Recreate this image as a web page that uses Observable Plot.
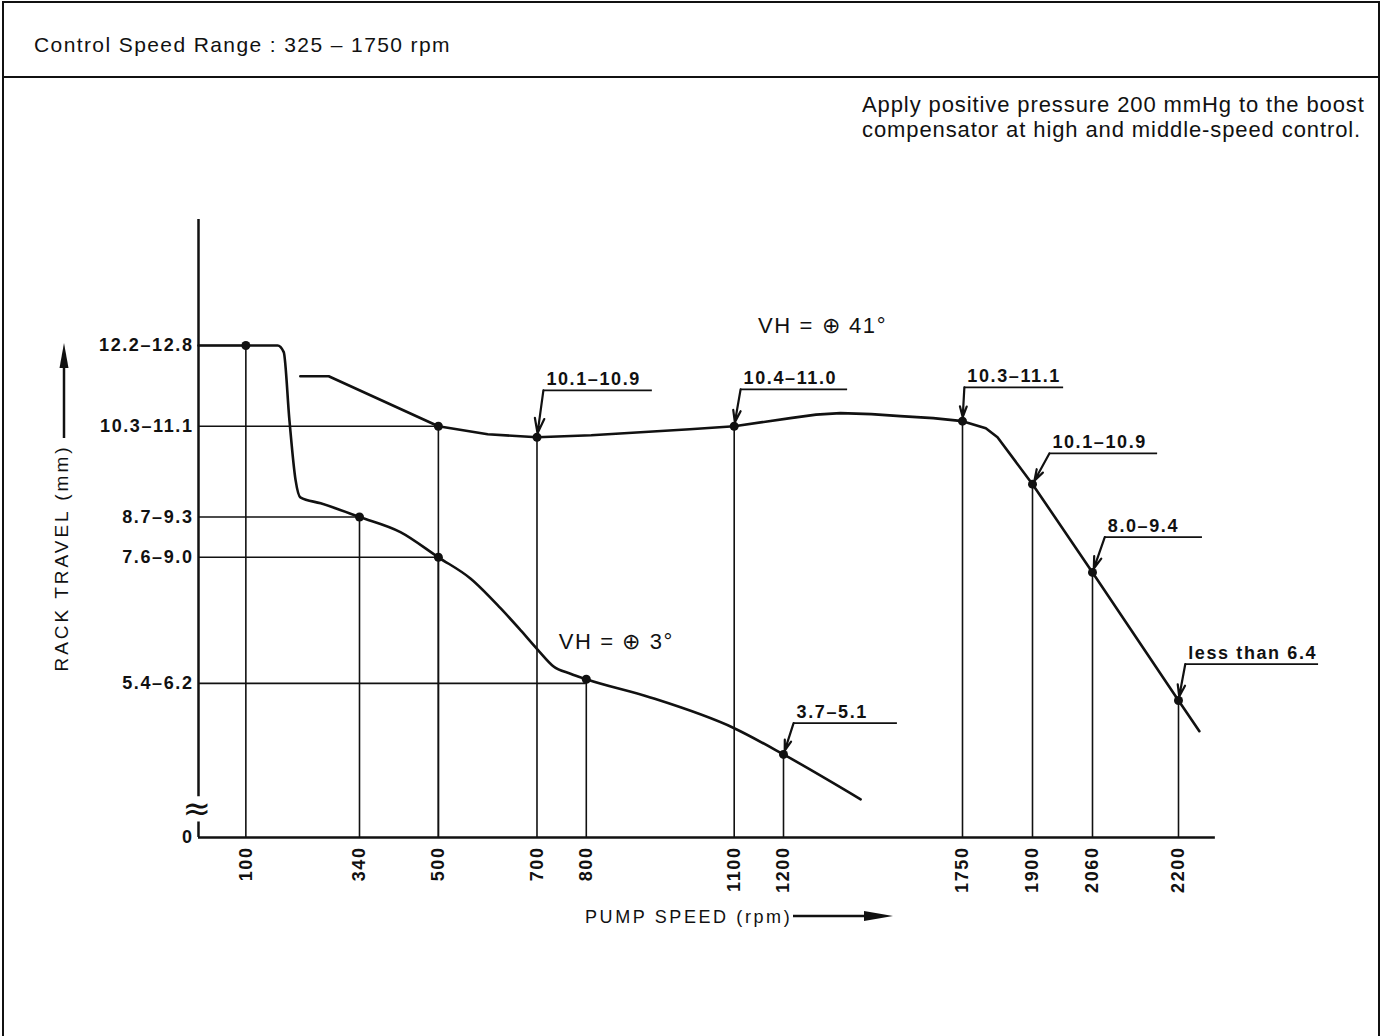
<!DOCTYPE html>
<html>
<head>
<meta charset="utf-8">
<script src="https://cdn.jsdelivr.net/npm/d3@7"></script>
<script src="https://cdn.jsdelivr.net/npm/@observablehq/plot@0.6"></script>
<style>
  html, body { margin: 0; padding: 0; background: #fff; }
  #page { position: relative; width: 1382px; height: 1036px; overflow: hidden; font-family: "Liberation Sans", Arial, sans-serif; color: #111; }
  #chart { position: absolute; left: 0; top: 0; }
  #chart text { letter-spacing: 1.6px; }
  #frame { position: absolute; left: 2px; top: 1px; width: 1378px; height: 1045px; box-sizing: border-box; border: 2px solid #111; }
  #sep { position: absolute; left: 2px; top: 76px; width: 1378px; height: 2px; background: #111; }
  #header { position: absolute; left: 34px; top: 34px; font-size: 21px; line-height: 21px; letter-spacing: 1.4px; white-space: nowrap; }
  #note { position: absolute; left: 862px; top: 92px; font-size: 22px; line-height: 25px; letter-spacing: 0.9px; white-space: nowrap; }
  #ylabel { position: absolute; left: 62px; top: 558px; transform: translate(-50%, -50%) rotate(-90deg); font-size: 19px; letter-spacing: 3px; white-space: nowrap; }
  #xlabel { position: absolute; left: 585px; top: 906px; font-size: 18px; line-height: 22px; letter-spacing: 2.6px; white-space: nowrap; }
</style>
</head>
<body>
<div id="page">
  <div id="chart"></div>
  <div id="frame"></div>
  <div id="sep"></div>
  <div id="header">Control Speed Range : 325 – 1750 rpm</div>
  <div id="note">Apply positive pressure 200 mmHg to the boost<br>compensator at high and middle-speed control.</div>
  <div id="ylabel">RACK TRAVEL (mm)</div>
  <div id="xlabel">PUMP SPEED (rpm)</div>
  <svg id="arrows" width="1382" height="1036" style="position:absolute;left:0;top:0;pointer-events:none">
    <line x1="64" y1="438" x2="64" y2="364" stroke="#111" stroke-width="2.5"/>
    <polygon points="64,343 59.5,368 68.5,368" fill="#111"/>
    <line x1="793" y1="916" x2="868" y2="916" stroke="#111" stroke-width="2.5"/>
    <polygon points="893,916 864,911 864,921" fill="#111"/>
  </svg>
</div>
<script>
// ---- axis ticks ----
const xTicks = [100, 340, 500, 700, 800, 1100, 1200, 1750, 1900, 2060, 2200];
const yTickValues = [0, 5.8, 8.3, 9.1, 10.9, 12.5];
const yTickLabels = ["0", "5.4–6.2", "7.6–9.0", "8.7–9.3", "10.3–11.1", "12.2–12.8"];

// ---- VH = ⊕ 3° curve (pump speed rpm, rack travel mm) ----
const lowSpeed = [0, 167, 180, 192, 205, 215, 258, 340, 423, 500, 565, 626, 667, 703, 733, 768, 800, 930, 1100, 1200, 1437];
const lowRack  = [12.5, 12.5, 12.37, 11.02, 9.83, 9.49, 9.37, 9.1, 8.8, 8.3, 7.88, 7.29, 6.85, 6.45, 6.14, 5.99, 5.88, 5.52, 4.91, 4.39, 3.5];

// ---- VH = ⊕ 41° curve ----
const highSpeed = [215, 275, 500, 600, 700, 810, 910, 1010, 1100, 1221, 1300, 1375, 1470, 1559, 1660, 1750, 1800, 1825, 1900, 2060, 2200, 2234];
const highRack  = [11.89, 11.89, 10.9, 10.74, 10.68, 10.72, 10.78, 10.84, 10.9, 11.06, 11.13, 11.16, 11.14, 11.1, 11.06, 11.0, 10.86, 10.68, 9.75, 8.0, 5.46, 4.85];

// ---- measured points ----
const pointSpeed = [100, 340, 500, 800, 1200, 500, 700, 1100, 1750, 1900, 2060, 2200];
const pointRack  = [12.5, 9.1, 8.3, 5.88, 4.39, 10.9, 10.68, 10.9, 11.0, 9.75, 8.0, 5.46];

// ---- horizontal guides from the rack travel axis ----
const guideSpeed = [100, 500, 340, 500, 800];
const guideRack  = [12.5, 10.9, 9.1, 8.3, 5.8];

// ---- callouts ----
const calloutLabels    = ["10.1–10.9", "10.4–11.0", "10.3–11.1", "10.1–10.9", "8.0–9.4", "less than 6.4", "3.7–5.1"];
const calloutSpeed     = [700, 1100, 1750, 1900, 2060, 2200, 1200];
const calloutRack      = [10.68, 10.9, 11.0, 9.75, 8.0, 5.46, 4.39];
const calloutLineStart = [713, 1113, 1754, 1945, 2080, 2211, 1231];
const calloutLineEnd   = [934, 1397, 1983, 2166, 2239, 2428, 1550];
const calloutLineRack  = [11.61, 11.63, 11.67, 10.36, 8.70, 6.18, 5.01];

// ---- series labels ----
const seriesLabels     = ["VH = ⊕ 41°", "VH = ⊕ 3°"];
const seriesLabelSpeed = [1320, 861];
const seriesLabelRack  = [12.88, 6.63];

// ---- build tables ----
const low = lowSpeed.map((s, i) => ({speed: s, rack: lowRack[i]}));
const high = highSpeed.map((s, i) => ({speed: s, rack: highRack[i]}));
const points = pointSpeed.map((s, i) => ({speed: s, rack: pointRack[i]}));
const guides = guideSpeed.map((s, i) => ({speed: s, rack: guideRack[i]}));
const callouts = calloutLabels.map((l, i) => ({
  label: l, speed: calloutSpeed[i], rack: calloutRack[i],
  x1: calloutLineStart[i], x2: calloutLineEnd[i], y: calloutLineRack[i]
}));
const yTicks = yTickValues.map((v, i) => ({v, label: yTickLabels[i]}));
const series = seriesLabels.map((t, i) => ({t, speed: seriesLabelSpeed[i], rack: seriesLabelRack[i]}));

const ink = "#111";
const font = "Liberation Sans, Arial, sans-serif";

const chart = Plot.plot({
  width: 1382,
  height: 1036,
  margin: 0,
  style: {background: "transparent", overflow: "visible"},
  x: {type: "linear", domain: [0, 340, 1200, 1750, 1900, 2060, 2200], range: [198, 359, 783, 962, 1032, 1092, 1178], axis: null},
  y: {type: "linear", domain: [0, 3, 15], range: [837, 824, 219], axis: null},
  marks: [
    // axes
    Plot.ruleY([0], {x1: 0, x2: 2260, stroke: ink, strokeWidth: 2.5}),
    Plot.ruleX([0], {y1: 3.55, y2: 15, stroke: ink, strokeWidth: 2.5}),
    Plot.ruleX([0], {y1: 0, y2: 3.05, stroke: ink, strokeWidth: 2.5}),
    Plot.text(["≈"], {x: 0, y: 3.3, text: d => d, fontSize: 34, fontFamily: "DejaVu Sans", fill: ink, dx: -1, lineAnchor: "middle"}),
    // guides and drop lines
    Plot.ruleY(guides, {y: "rack", x1: 0, x2: "speed", stroke: ink, strokeWidth: 1.6}),
    Plot.ruleX(points, {x: "speed", y1: 0, y2: "rack", stroke: ink, strokeWidth: 1.6}),
    // curves
    Plot.line(low, {x: "speed", y: "rack", curve: "monotone-x", stroke: ink, strokeWidth: 2.6}),
    Plot.line(high, {x: "speed", y: "rack", curve: "linear", stroke: ink, strokeWidth: 2.6, strokeLinejoin: "round"}),
    // points
    Plot.dot(points, {x: "speed", y: "rack", r: 4.5, fill: ink}),
    // callouts
    Plot.ruleY(callouts, {y: "y", x1: "x1", x2: "x2", stroke: ink, strokeWidth: 1.8}),
    Plot.arrow(callouts, {x1: "x1", y1: "y", x2: "speed", y2: "rack", stroke: ink, strokeWidth: 2.2, headAngle: 35, headLength: 12, insetEnd: 4}),
    Plot.text(callouts, {x: "x1", y: "y", text: "label", textAnchor: "start", lineAnchor: "bottom", dx: 3, dy: -5, fontFamily: font, fontWeight: "bold", fontSize: 18, fill: ink}),
    // tick labels
    Plot.text(xTicks, {x: d => d, y: 0, text: d => String(d), rotate: -90, textAnchor: "end", lineAnchor: "middle", dy: 9, fontFamily: font, fontWeight: "bold", fontSize: 18, fill: ink}),
    Plot.text(yTicks, {x: 0, y: "v", text: "label", textAnchor: "end", lineAnchor: "middle", dx: -5, fontFamily: font, fontWeight: "bold", fontSize: 18, fill: ink}),
    // series labels
    Plot.text(series, {x: "speed", y: "rack", text: "t", textAnchor: "middle", lineAnchor: "middle", fontFamily: font, fontSize: 22, fill: ink})
  ]
});
document.getElementById("chart").appendChild(chart);
</script>
</body>
</html>
